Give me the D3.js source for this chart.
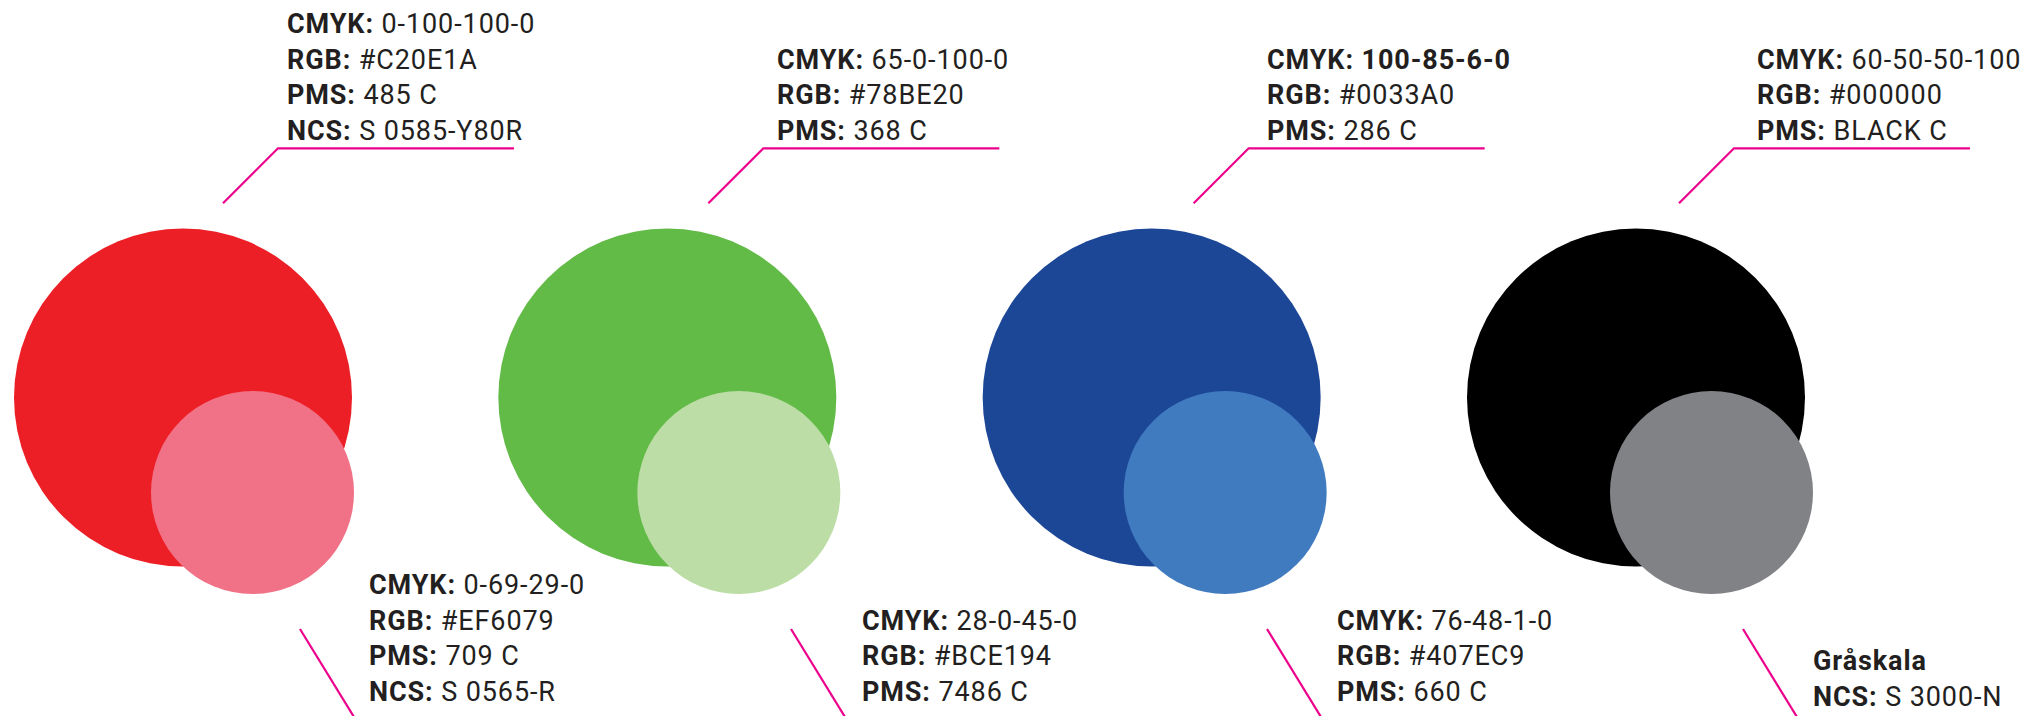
<!DOCTYPE html>
<html>
<head>
<meta charset="utf-8">
<script src="https://cdn.jsdelivr.net/npm/d3@7"></script>
<style>
  html, body { margin: 0; padding: 0; background: #ffffff; }
  svg { display: block; }
  text { font-family: Roboto, "DejaVu Sans", sans-serif; fill: #231F20; letter-spacing: 0.9px; }
</style>
</head>
<body>
<script>
// ---------- data ----------
const groups = ["red", "green", "blue", "black"];
const mainColors = ["#ED1F26", "#62BA47", "#1C4797", "#000000"];
const tintColors = ["#F17287", "#BCDDA6", "#407BC0", "#818286"];

const topKeys = [
  ["CMYK:", "RGB:", "PMS:", "NCS:"],
  ["CMYK:", "RGB:", "PMS:"],
  ["CMYK:", "RGB:", "PMS:"],
  ["CMYK:", "RGB:", "PMS:"]
];
const topValues = [
  ["0-100-100-0", "#C20E1A", "485 C", "S 0585-Y80R"],
  ["65-0-100-0", "#78BE20", "368 C"],
  ["100-85-6-0", "#0033A0", "286 C"],
  ["60-50-50-100", "#000000", "BLACK C"]
];
const topBoldValue = [[], [], ["CMYK:"], []];

const bottomKeys = [
  ["CMYK:", "RGB:", "PMS:", "NCS:"],
  ["CMYK:", "RGB:", "PMS:"],
  ["CMYK:", "RGB:", "PMS:"],
  ["Gråskala", "NCS:"]
];
const bottomValues = [
  ["0-69-29-0", "#EF6079", "709 C", "S 0565-R"],
  ["28-0-45-0", "#BCE194", "7486 C"],
  ["76-48-1-0", "#407EC9", "660 C"],
  ["", "S 3000-N"]
];

// ---------- layout ----------
const W = 2026, H = 716;
const L = {
  bigX: [183, 1636], bigY: 397.5, bigR: 169,
  smallX: [252.5, 1711.5], smallY: 492.5, smallR: 101.5,
  topTextX: [287, 1757], topLastBaseline: 139.6,
  topLineX: [278, 1734], topLineY: 148.3, topLineLen: 236, diag: 55,
  bottomTextX: [369, 862, 1337, 1813], bottomLastBaseline: [700.5, 700.8, 700.8, 705.6],
  bottomLineX: [300, 791, 1267, 1743], bottomLineY: 629, bottomLineDX: 54, bottomLineDY: 88,
  lineStep: 35.4, fontSize: 27
};
const MAGENTA = "#EC008C";

const idx = d3.range(groups.length);
const xBig = d3.scaleLinear().domain([0, groups.length - 1]).range(L.bigX);
const xSmall = d3.scaleLinear().domain([0, groups.length - 1]).range(L.smallX);
const xTopText = d3.scaleLinear().domain([0, groups.length - 1]).range(L.topTextX);
const xTopLine = d3.scaleLinear().domain([0, groups.length - 1]).range(L.topLineX);
const color = d3.scaleOrdinal().domain(groups).range(mainColors);
const tint = d3.scaleOrdinal().domain(groups).range(tintColors);

const svg = d3.select("body").append("svg")
  .attr("width", W).attr("height", H)
  .attr("viewBox", `0 0 ${W} ${H}`);

// circles
const g = svg.selectAll("g.group").data(idx).join("g").attr("class", "group");
g.append("circle")
  .attr("cx", i => xBig(i)).attr("cy", L.bigY).attr("r", L.bigR)
  .attr("fill", i => color(groups[i]));
g.append("circle")
  .attr("cx", i => xSmall(i)).attr("cy", L.smallY).attr("r", L.smallR)
  .attr("fill", i => tint(groups[i]));

// top leader lines
const line = d3.line();
g.append("path")
  .attr("d", i => {
    const x0 = xTopLine(i);
    return line([[x0 - L.diag, L.topLineY + L.diag], [x0, L.topLineY], [x0 + L.topLineLen, L.topLineY]]);
  })
  .attr("fill", "none").attr("stroke", MAGENTA).attr("stroke-width", 2.2);

// bottom leader lines
g.append("path")
  .attr("d", i => {
    const x0 = L.bottomLineX[i];
    return line([[x0, L.bottomLineY], [x0 + L.bottomLineDX, L.bottomLineY + L.bottomLineDY]]);
  })
  .attr("fill", "none").attr("stroke", MAGENTA).attr("stroke-width", 2.2);

// label blocks
function block(sel, x, lastBaseline, keys, values, boldVals) {
  const n = keys.length;
  keys.forEach((k, j) => {
    const t = sel.append("text")
      .attr("x", x)
      .attr("y", lastBaseline - (n - 1 - j) * L.lineStep)
      .attr("font-size", L.fontSize);
    t.append("tspan").attr("font-weight", 700).text(k);
    if (values[j]) {
      t.append("tspan")
        .attr("font-weight", boldVals.includes(k) ? 700 : 400)
        .text("\u00A0" + values[j]);
    }
  });
}

g.each(function(i) {
  const s = d3.select(this);
  block(s, xTopText(i), L.topLastBaseline, topKeys[i], topValues[i], topBoldValue[i]);
  block(s, L.bottomTextX[i], L.bottomLastBaseline[i], bottomKeys[i], bottomValues[i], []);
});
</script>
</body>
</html>
